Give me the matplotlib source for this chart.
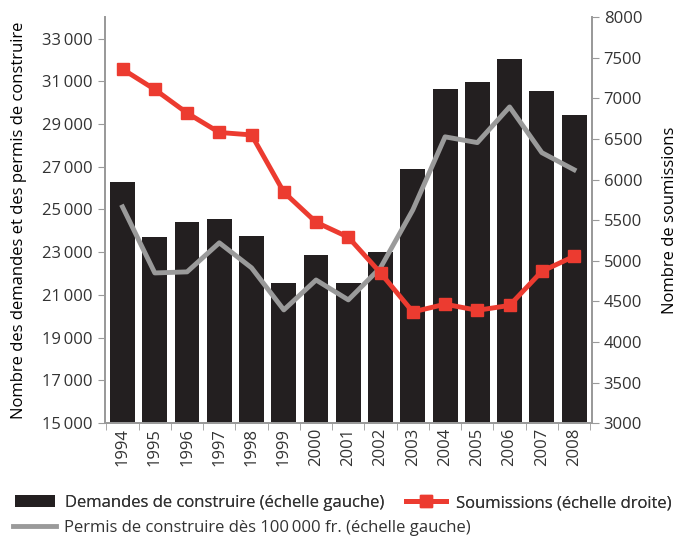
import matplotlib
matplotlib.use('Agg')
import matplotlib.pyplot as plt
from matplotlib.ticker import FuncFormatter

plt.rcParams['font.family'] = ['Open Sans', 'DejaVu Sans']
plt.rcParams['text.color'] = '#333333'

# data
years = [str(y) for y in range(1994, 2009)]
demandes = [26300, 23700, 24400, 24550, 23750, 21550, 22870, 21550, 23000,
            26900, 30650, 30980, 32060, 30560, 29440]
permis = [25120, 22030, 22080, 23440, 22270, 20300, 21700, 20770, 22280,
          24980, 28400, 28130, 29800, 27660, 26860]
soumissions = [7360, 7110, 6820, 6580, 6550, 5845, 5475, 5290, 4850,
               4370, 4465, 4390, 4450, 4870, 5055]

grey = '#9a9a9a'
red = '#ec3b30'


def thin(v, pos):
    return '{:,.0f}'.format(v).replace(',', '\u2009')


def main():
    fig = plt.figure(figsize=(6.85, 5.37), dpi=100)
    ax = fig.add_axes([0.153, 0.212, 0.711, 0.756])
    ax2 = ax.twinx()

    x = range(len(years))
    b = ax.bar(x, demandes, width=0.77, color='#231f20', zorder=2)
    g, = ax.plot(x, permis, color=grey, lw=3.5, zorder=3)
    r, = ax2.plot(x, soumissions, color=red, lw=3.5, marker='s', ms=9,
                  zorder=4)

    ax.set_zorder(1)
    ax2.set_zorder(2)
    ax2.patch.set_visible(False)

    ax.set_ylim(15000, 34000)
    ax.set_yticks(range(15000, 34000, 2000))
    ax.yaxis.set_major_formatter(FuncFormatter(thin))
    ax2.set_ylim(3000, 8000)
    ax2.set_yticks(range(3000, 8001, 500))
    ax.set_xlim(-0.55, len(years) - 0.45)
    ax.set_xticks(list(x))
    ax.set_xticklabels(years, rotation=90)
    ax.set_xticks([i + 0.5 for i in range(-1, len(years))], minor=True)
    ax.tick_params(axis='x', which='major', length=0)
    ax.tick_params(axis='x', which='minor', length=5, color=grey)

    for a in (ax, ax2):
        a.spines['top'].set_visible(False)
        for s in ('left', 'right', 'bottom'):
            a.spines[s].set_color(grey)
            a.spines[s].set_linewidth(1.3)
        a.tick_params(axis='y', color=grey, length=5, labelsize=12,
                      labelcolor='#333333')
        a.tick_params(axis='x', labelsize=12, labelcolor='#333333')

    ax.set_ylabel('Nombre des demandes et des permis de construire',
                  fontsize=12, labelpad=11)
    ax2.set_ylabel('Nombre de soumissions', fontsize=12, labelpad=14)

    # legend: two rows placed by hand
    leg1 = fig.legend([b, r],
                      ['Demandes de construire (échelle gauche)',
                       'Soumissions (échelle droite)'],
                      ncol=2, loc='center left',
                      bbox_to_anchor=(0.022, 0.063), frameon=False,
                      fontsize=12, handlelength=2.4, handleheight=0.75,
                      handletextpad=0.6, columnspacing=1.3,
                      borderpad=0, borderaxespad=0)
    fig.add_artist(leg1)
    fig.legend([g],
               ['Permis de construire dès 100\u2009000 fr. (échelle gauche)'],
               loc='center left', bbox_to_anchor=(0.019, 0.017),
               frameon=False, fontsize=12, handlelength=2.6,
               handletextpad=0.45, borderpad=0, borderaxespad=0)

    plt.savefig('out.png', dpi=100)


if __name__ == '__main__':
    main()
